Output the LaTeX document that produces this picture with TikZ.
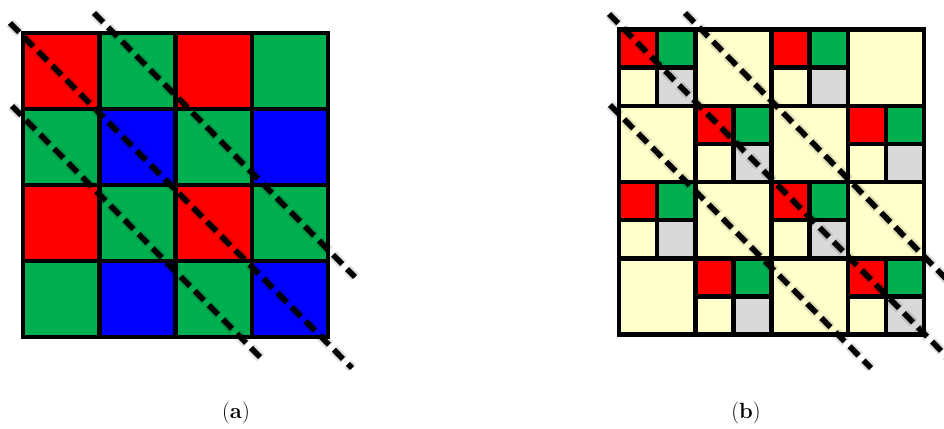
\documentclass[tikz,border=0pt]{standalone}
\definecolor{cR}{RGB}{255,0,0}
\definecolor{cG}{RGB}{0,176,80}
\definecolor{cB}{RGB}{0,0,255}
\definecolor{cY}{RGB}{255,255,204}
\definecolor{cS}{RGB}{217,217,217}
\begin{document}
\begin{tikzpicture}[x=1pt,y=-1pt,
  gridline/.style={line width=4.5pt, black, line cap=rect},
  diagline/.style={line width=5.5pt, black, dash pattern=on 13pt off 7pt},
  diagshade/.style={line width=10pt, black, opacity=0.12, dash pattern=on 14pt off 6pt, shift={(2,3)}},
  diagshadeb/.style={line width=6pt, black, opacity=0.18, dash pattern=on 13pt off 7pt, shift={(2,3)}},
  caption/.style={font=\fontsize{22}{26}\selectfont, inner sep=0pt}]
\useasboundingbox (0,0) rectangle (944,428);
\clip (0,0) rectangle (944,428);
% ---------- panel (a)
\foreach \row/\cols in {0/{cR,cG,cR,cG},1/{cG,cB,cG,cB},2/{cR,cG,cR,cG},3/{cG,cB,cG,cB}}{
  \foreach \col [count=\c from 0] in \cols {
    \fill[\col] (23+\c*76.25,33+\row*76) rectangle ++(76.25,76);
  }
}
\foreach \i in {1,2,3}{
  \draw[gridline] (23+\i*76.25,33) -- (23+\i*76.25,337);
  \draw[gridline] (23,33+\i*76) -- (328,33+\i*76);
}
\draw[gridline, line join=miter] (23,33) rectangle (328,337);
% ---------- panel (b)
\foreach \r in {0,...,3}{
  \foreach \c in {0,...,3}{
    \pgfmathtruncatemacro\pp{mod(\r+\c,2)}
    \pgfmathsetmacro\xx{619+\c*76.25}
    \pgfmathsetmacro\yy{29.5+\r*76.25}
    \ifnum\pp=0
      \fill[cR] (\xx,\yy) rectangle ++(38.125,38.125);
      \fill[cG] (\xx+38.125,\yy) rectangle ++(38.125,38.125);
      \fill[cY] (\xx,\yy+38.125) rectangle ++(38.125,38.125);
      \fill[cS] (\xx+38.125,\yy+38.125) rectangle ++(38.125,38.125);
      \draw[gridline] (\xx+38.125,\yy) -- ++(0,76.25);
      \draw[gridline] (\xx,\yy+38.125) -- ++(76.25,0);
    \else
      \fill[cY] (\xx,\yy) rectangle ++(76.25,76.25);
    \fi
  }
}
\foreach \i in {1,2,3}{
  \draw[gridline] (619+\i*76.25,29.5) -- (619+\i*76.25,334.5);
  \draw[gridline] (619,29.5+\i*76.25) -- (924,29.5+\i*76.25);
}
\draw[gridline, line join=miter] (619,29.5) rectangle (924,334.5);
% ---------- dashed diagonals
\coordinate (a1s) at (10,23);   \coordinate (a1e) at (352,368);
\coordinate (a2s) at (94,13);   \coordinate (a2e) at (355,277);
\coordinate (a3s) at (12,106);  \coordinate (a3e) at (262,359);
\coordinate (b1s) at (609,14);  \coordinate (b1e) at (962,372);
\coordinate (b2s) at (685,13);  \coordinate (b2e) at (962,295);
\coordinate (b3s) at (610,105); \coordinate (b3e) at (871,368);
\foreach \s/\e in {a1s/a1e,a2s/a2e,a3s/a3e,b1s/b1e,b2s/b2e,b3s/b3e}{
  \draw[diagshade] (\s) -- (\e);
  \draw[diagshadeb] (\s) -- (\e);
}
\foreach \s/\e in {a1s/a1e,a2s/a2e,a3s/a3e,b1s/b1e,b2s/b2e,b3s/b3e}{
  \draw[diagline] (\s) -- (\e);
}
% ---------- captions
\node[caption] (capa) at (236,413) {(\textbf{a})};
\node[caption] (capb) at (746,413) {(\textbf{b})};
\end{tikzpicture}
\end{document}
